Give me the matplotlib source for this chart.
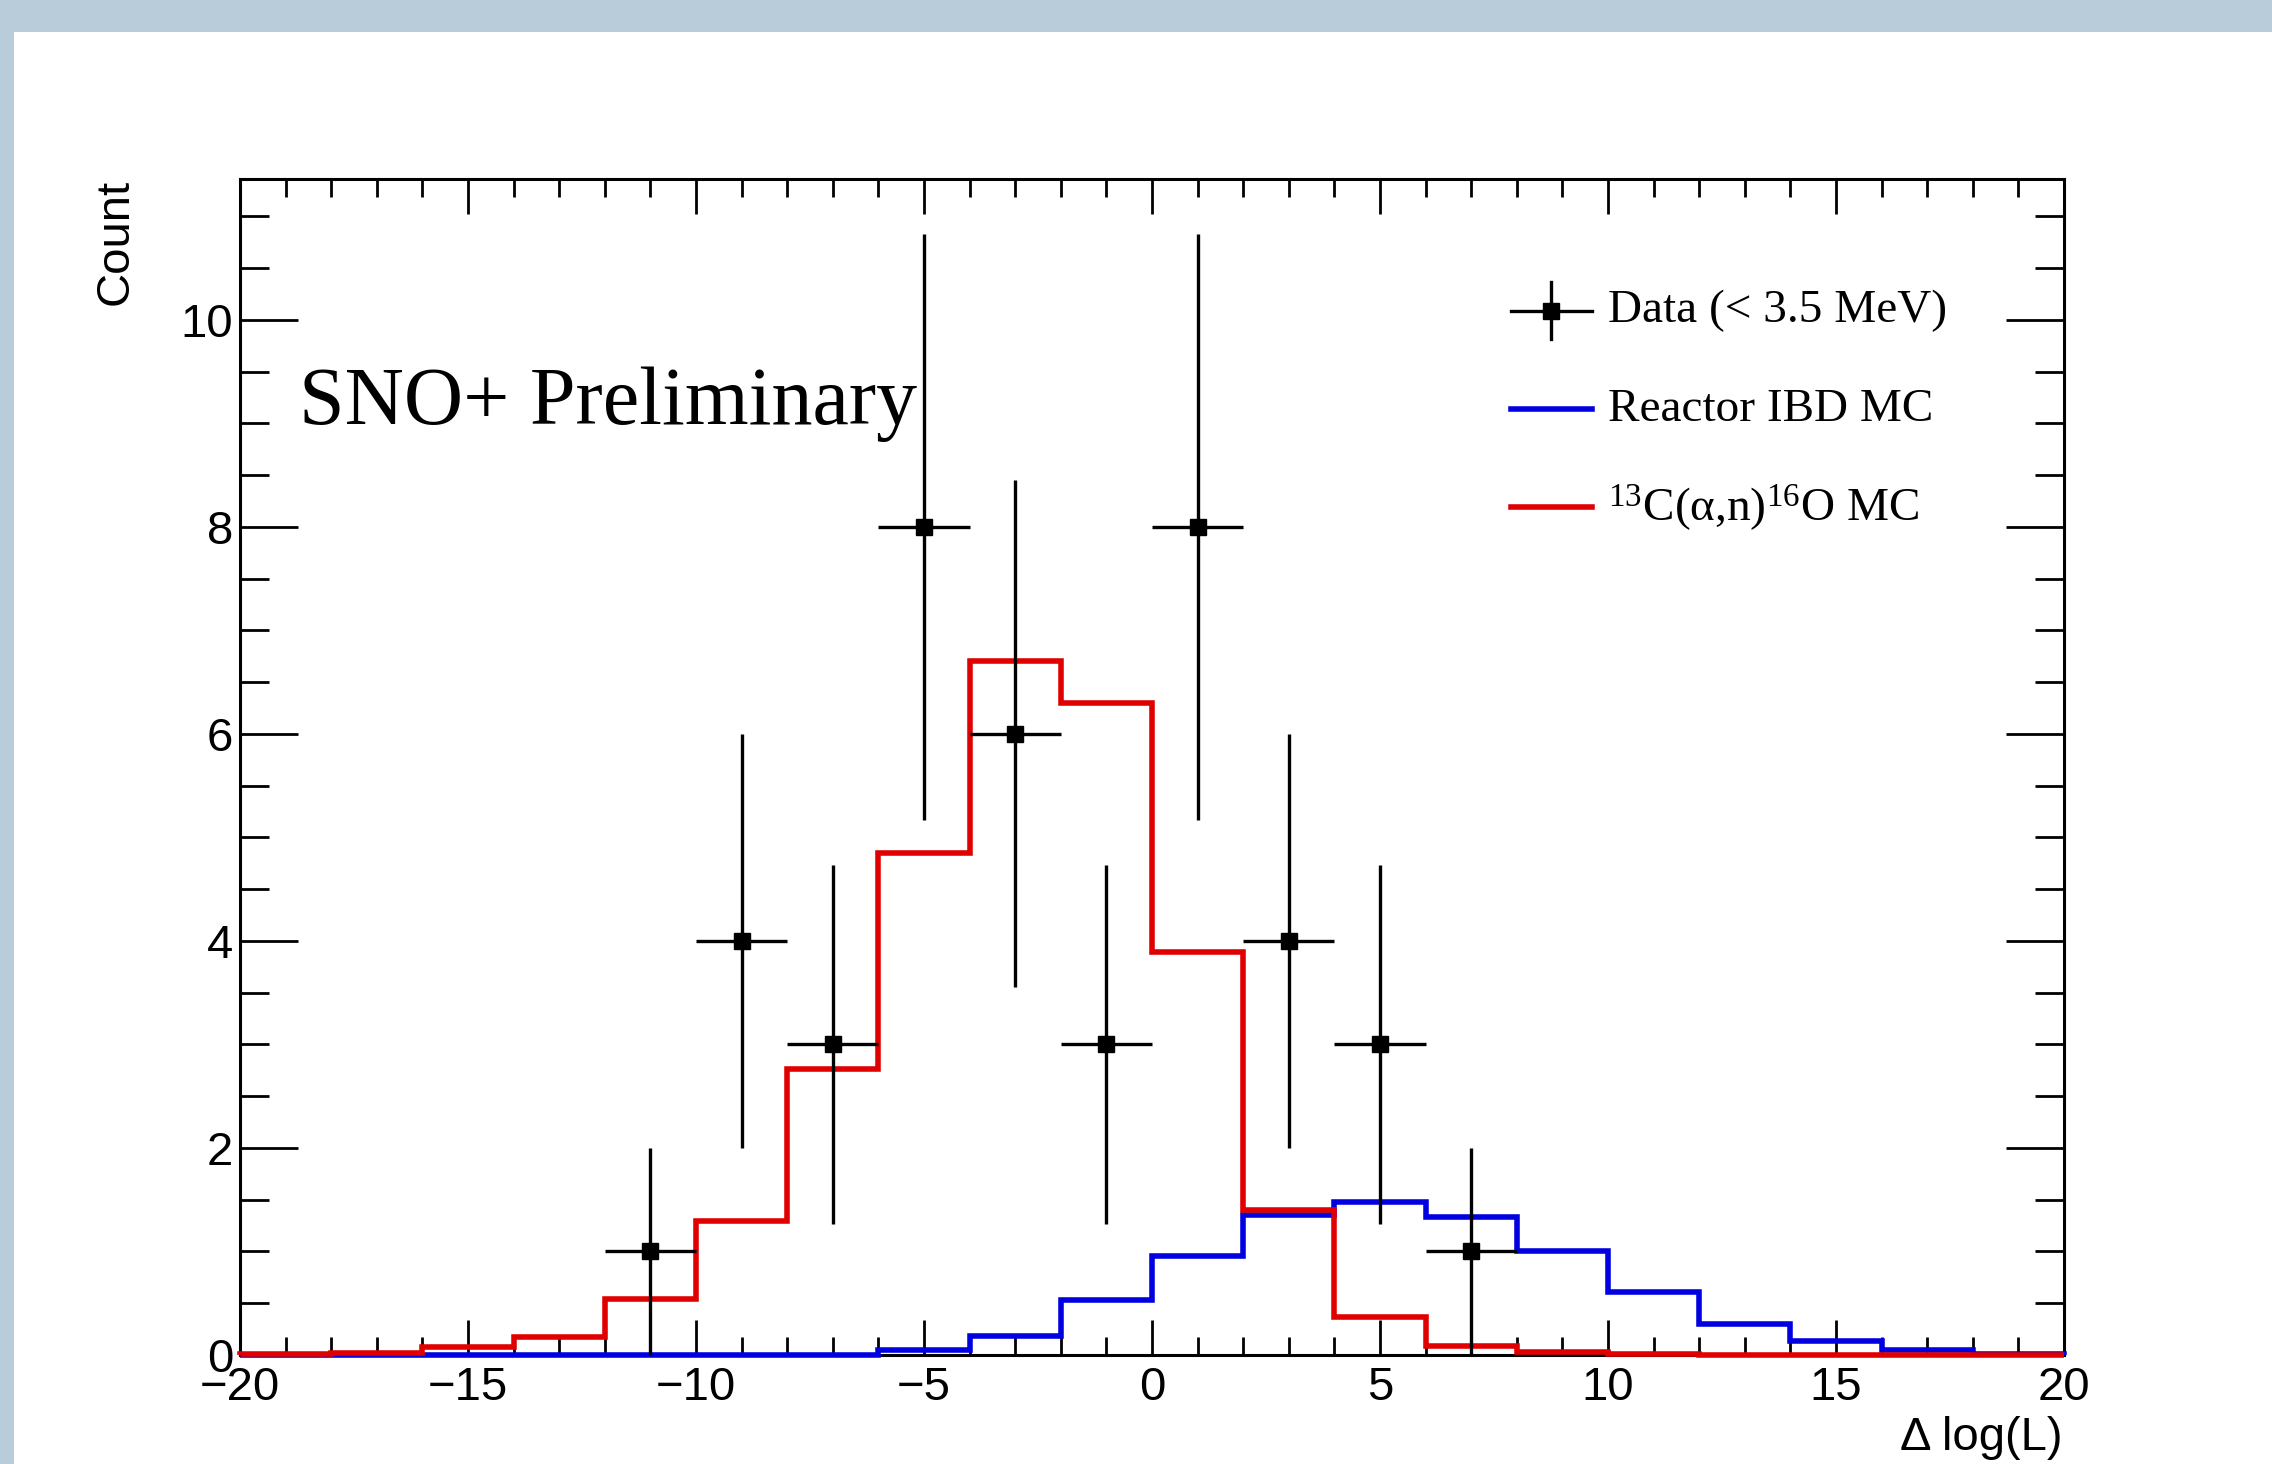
import numpy as np
import matplotlib
matplotlib.use("Agg")
import matplotlib.pyplot as plt
from matplotlib.lines import Line2D
from matplotlib.patches import Rectangle
from matplotlib.ticker import MultipleLocator

# ── Data ─────────────────────────────────────────────────────────────────────
bin_edges = np.arange(-20, 22, 2)

# 13C(alpha,n)16O MC (red), per 2-unit bin from -20 to 20
alpha_n_mc = [0.005, 0.015, 0.08, 0.17, 0.54, 1.29, 2.76, 4.85, 6.70, 6.30,
              3.89, 1.40, 0.37, 0.09, 0.025, 0.006, 0.004, 0.003, 0.002, 0.002]

# Reactor IBD MC (blue)
reactor_mc = [0.0, 0.0, 0.0, 0.0, 0.0, 0.0, 0.0, 0.045, 0.18, 0.53,
              0.96, 1.35, 1.48, 1.33, 1.0, 0.61, 0.30, 0.14, 0.05, 0.005]

# Data (< 3.5 MeV)
data_x = [-11, -9, -7, -5, -3, -1, 1, 3, 5, 7]
data_counts = [1, 4, 3, 8, 6, 3, 8, 4, 3, 1]

RED = "#e00000"
BLUE = "#0000e0"
BG_PHOTO = "#b9ccd9"
SANS = ["Liberation Sans", "DejaVu Sans"]
SERIF = ["Liberation Serif", "DejaVu Serif"]

plt.rcParams["font.family"] = SANS
plt.rcParams["mathtext.fontset"] = "custom"
plt.rcParams["mathtext.rm"] = "Liberation Serif"
plt.rcParams["mathtext.it"] = "Liberation Serif:italic"

W, H = 2272, 1464
fig = plt.figure(figsize=(W / 100, H / 100), dpi=100)
fig.patch.set_facecolor(BG_PHOTO)
# white slide panel over the photo background
fig.add_artist(Rectangle((14 / W, 0), 1, 1 - 32 / H, transform=fig.transFigure,
                         facecolor="white", edgecolor="none", zorder=0))

ax = fig.add_axes([240 / W, 1 - 1355 / H, 1824 / W, 1176 / H])
ax.set_facecolor("white")

# ── Histograms ───────────────────────────────────────────────────────────────
ax.stairs(reactor_mc, bin_edges, color=BLUE, lw=4.0, baseline=0, clip_on=False, zorder=3)
ax.stairs(alpha_n_mc, bin_edges, color=RED, lw=4.0, baseline=0, clip_on=False, zorder=4)

counts = np.array(data_counts, dtype=float)
ax.errorbar(data_x, counts, xerr=1, yerr=np.sqrt(counts), fmt="s", color="black",
            ms=11, elinewidth=2.4, capsize=0, zorder=5, clip_on=False)

# ── Axes ─────────────────────────────────────────────────────────────────────
ax.set_xlim(-20, 20)
ax.set_ylim(0, 11.36)
ax.xaxis.set_major_locator(MultipleLocator(5))
ax.xaxis.set_minor_locator(MultipleLocator(1))
ax.yaxis.set_major_locator(MultipleLocator(2))
ax.yaxis.set_minor_locator(MultipleLocator(0.5))
for s in ax.spines.values():
    s.set_linewidth(2.2)
ax.tick_params(which="both", direction="in", top=True, right=True, width=2.0,
               labelsize=34)
ax.tick_params(axis="x", which="major", length=25, pad=8)
ax.tick_params(axis="x", which="minor", length=12.7)
ax.tick_params(axis="y", which="major", length=41.5, pad=5)
ax.tick_params(axis="y", which="minor", length=21)

fig.text(116 / W, 1 - 179 / H, "Count", rotation=90, ha="center", va="top",
         fontsize=34)
fig.text(2063 / W, 1 - 1450 / H, "\u0394 log(L)", ha="right", va="baseline",
         fontsize=34)

ax.text(0.0326, 0.7915, "SNO+ Preliminary", transform=ax.transAxes,
        family=SERIF, fontsize=59, va="baseline", ha="left")

# ── Legend (drawn by hand, ROOT style) ──────────────────────────────────────
hx0, hx1, tx = 0.697, 0.741, 0.750
rows = [0.888, 0.804, 0.721]
hc = (hx0 + hx1) / 2
ax.add_line(Line2D([hx0, hx1], [rows[0]] * 2, color="black", lw=2.4,
                   transform=ax.transAxes, clip_on=False))
ax.add_line(Line2D([hc, hc], [rows[0] - 0.024, rows[0] + 0.024], color="black",
                   lw=2.4, transform=ax.transAxes, clip_on=False))
ax.add_line(Line2D([hc], [rows[0]], marker="s", ms=11, color="black",
                   transform=ax.transAxes, clip_on=False))
ax.add_line(Line2D([hx0, hx1], [rows[1]] * 2, color=BLUE, lw=4.0,
                   transform=ax.transAxes, clip_on=False))
ax.add_line(Line2D([hx0, hx1], [rows[2]] * 2, color=RED, lw=4.0,
                   transform=ax.transAxes, clip_on=False))
labels = ["Data (< 3.5 MeV)", "Reactor IBD MC",
          r"$\mathregular{^{13}}$C(α,n)$\mathregular{^{16}}$O MC"]
for y, lab in zip(rows, labels):
    ax.text(tx, y, lab, transform=ax.transAxes, family=SERIF, fontsize=34,
            ha="left", va="center")

fig.savefig("out.png", dpi=100, facecolor=fig.get_facecolor())
